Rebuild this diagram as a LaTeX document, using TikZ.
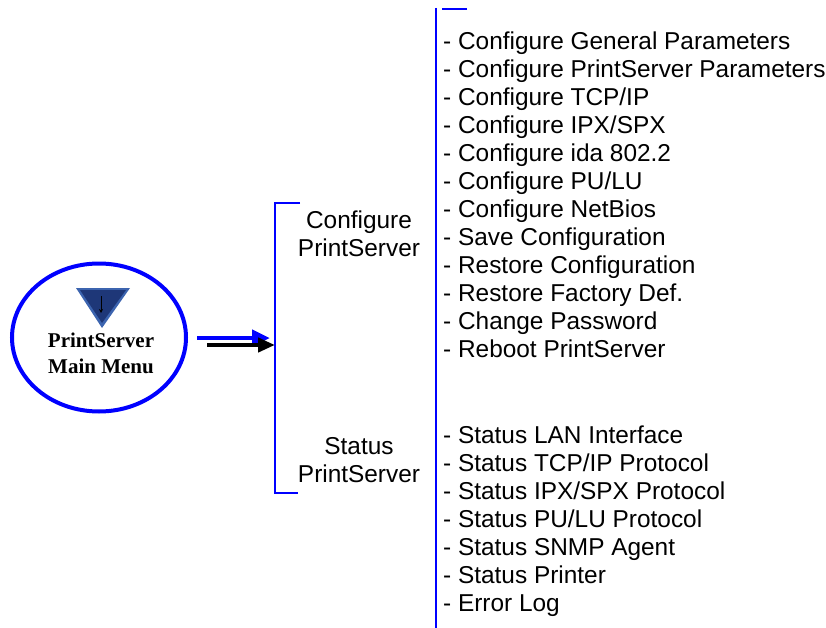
\documentclass[tikz,border=0pt]{standalone}
\usepackage{fontspec}
\setmainfont{Liberation Sans}
\newfontfamily\menufont{Liberation Serif}
\usetikzlibrary{shapes,arrows.meta,positioning,calc}

\definecolor{icondark}{RGB}{30,55,120}
\definecolor{iconlight}{RGB}{60,100,175}

\begin{document}
\begin{tikzpicture}[
    x=1pt, y=-1pt,
    menu/.style={ellipse, draw=blue, line width=4pt, minimum width=174pt, minimum height=148pt},
    menulabel/.style={font=\menufont\bfseries\fontsize{21}{26}\selectfont, align=center, inner sep=0pt},
    group/.style={font=\fontsize{24.4}{28}\selectfont, align=center, inner sep=0pt},
    items/.style={font=\fontsize{24.4}{28}\selectfont, align=left, inner sep=0pt, anchor=north west},
    bracket/.style={draw=blue, line width=2.6pt},
    bluelink/.style={draw=blue, line width=4.5pt, -{Triangle[length=18pt,width=16pt]}},
    blacklink/.style={draw=black, line width=4.5pt, -{Triangle[length=17pt,width=14pt]}}
]
\useasboundingbox (0,0) rectangle (826,628);

% Main menu
\node[menu] (main) at (99,337.5) {};
\node[menulabel] (mainlbl) at (101,353) {PrintServer\\Main Menu};

% Icon
\fill[iconlight] (76,288) -- (130,288) -- (102,328) -- cycle;
\fill[icondark] (80,290) -- (126,290) -- (102,323) -- cycle;
\draw[black, line width=0.8pt, -{Stealth[length=4pt,width=4pt]}] (101,296) -- (101,313);

% Brackets
\coordinate (cfgtop) at (275,203);
\coordinate (cfgbot) at (275,493);
\coordinate (cfgin) at (275,345);
\coordinate (itemtop) at (436,8);
\coordinate (itembot) at (436,628);
\draw[bracket] ($(cfgtop)+(25,0)$) -- (cfgtop) -- (cfgbot) -- ($(cfgbot)+(23,0)$);
\draw[bracket] ($(itemtop)+(31,1)$) -- ($(itemtop)+(6,1)$);
\draw[bracket] (itemtop) -- (itembot);

% Arrows
\coordinate (bluein) at (270,338);
\draw[bluelink] ($(main.east)+(9,0.5)$) -- (bluein);
\draw[blacklink] ($(main.east)+(19,7.5)$) -- (cfgin);

% Groups
\node[group] (config) at (359,234) {Configure\\PrintServer};
\node[group] (status) at (359,460) {Status\\PrintServer};

% Items
\node[items] (cfgitems) at (443,31.3) {- Configure General Parameters\\
- Configure PrintServer Parameters\\
- Configure TCP/IP\\
- Configure IPX/SPX\\
- Configure ida 802.2\\
- Configure PU/LU\\
- Configure NetBios\\
- Save Configuration\\
- Restore Configuration\\
- Restore Factory Def.\\
- Change Password\\
- Reboot PrintServer};

\node[items] (statitems) at (443,425.3) {- Status LAN Interface\\
- Status TCP/IP Protocol\\
- Status IPX/SPX Protocol\\
- Status PU/LU Protocol\\
- Status SNMP Agent\\
- Status Printer\\
- Error Log};

\end{tikzpicture}
\end{document}
